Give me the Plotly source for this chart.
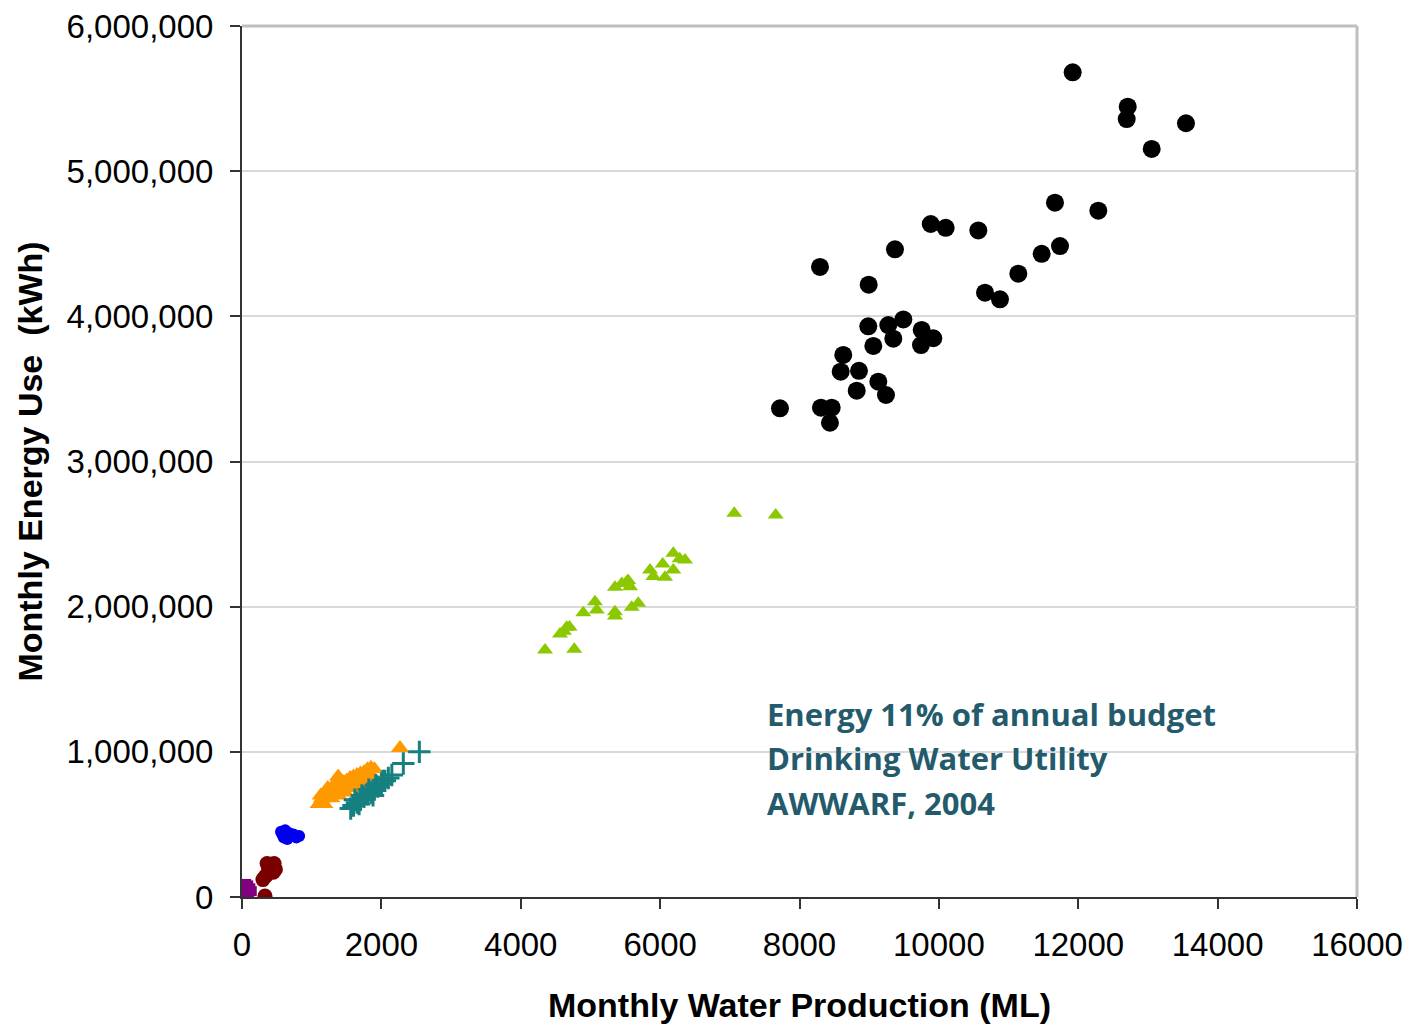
import plotly.graph_objects as go

# ---- Data ----
black_x = [11920, 12710, 12695, 13546, 13054, 11666, 12288, 9883, 10098, 10566,
           9370, 8294, 11738, 11475, 11140, 10662, 10877, 8993, 9490, 8987,
           9274, 9753, 9920, 9346, 9743, 9059, 8628, 8854, 8591, 9131,
           9241, 8821, 7720, 8308, 8462, 8437]
black_y = [5681000, 5444000, 5359000, 5330000, 5153000, 4783000, 4728000, 4636000, 4610000, 4592000,
           4462000, 4340000, 4484000, 4431000, 4294000, 4163000, 4117000, 4218000, 3979000, 3931000,
           3940000, 3906000, 3849000, 3846000, 3802000, 3796000, 3734000, 3625000, 3619000, 3550000,
           3458000, 3488000, 3366000, 3371000, 3371000, 3267000]

green_x = [7064, 7658, 6189, 6357, 6037, 5855, 6189, 5902, 6070, 5520,
           5352, 5568, 5065, 5687, 5592, 5352, 4897, 5090, 5352, 4659,
           4563, 4348, 4768, 4620, 4700, 5540, 5450, 6280]
green_y = [2643000, 2631000, 2368000, 2321000, 2294000, 2253000, 2253000, 2207000, 2202000, 2172000,
           2133000, 2138000, 2034000, 2023000, 1996000, 1965000, 1958000, 1977000, 1936000, 1858000,
           1812000, 1701000, 1706000, 1830000, 1860000, 2180000, 2160000, 2330000]

orange_x = [1100, 1150, 1200, 1250, 1300, 1350, 1380, 1420, 1460, 1500,
            1550, 1600, 1650, 1700, 1750, 1800, 1850, 1900, 1180, 1280,
            1380, 1480, 1580, 1680, 1780, 1880, 1320, 1440, 1130, 1230,
            1530, 1630, 1730, 2267]
orange_y = [640000, 680000, 700000, 730000, 760000, 790000, 830000, 800000, 790000, 800000,
            820000, 830000, 840000, 850000, 860000, 880000, 890000, 880000, 640000, 680000,
            700000, 720000, 750000, 770000, 790000, 820000, 740000, 760000, 700000, 750000,
            770000, 800000, 820000, 1026000]

teal_x = [1560, 1600, 1650, 1700, 1750, 1800, 1850, 1900, 1950, 2000,
          2050, 2100, 2150, 1620, 1720, 1820, 1920, 2020, 1680, 1880,
          2315, 2545]
teal_y = [610000, 630000, 650000, 670000, 690000, 710000, 720000, 740000, 760000, 780000,
          800000, 820000, 840000, 670000, 700000, 740000, 770000, 800000, 640000, 700000,
          920000, 1000000]

blue_x = [560, 620, 680, 600, 700, 780, 820, 650, 740, 580]
blue_y = [450000, 460000, 440000, 410000, 420000, 410000, 420000, 400000, 430000, 430000]

darkred_x = [420, 480, 350, 300, 450, 380, 330, 400, 460, 360, 330]
darkred_y = [220000, 190000, 150000, 120000, 170000, 200000, 140000, 180000, 230000, 230000, 7000]

purple_x = [50, 80, 120, 60, 100, 30, 90, 140]
purple_y = [50000, 30000, 60000, 90000, 20000, 10000, 80000, 40000]

cyan_x = [5, 15]
cyan_y = [30000, 50000]

x_ticks = [0, 2000, 4000, 6000, 8000, 10000, 12000, 14000, 16000]
y_ticks = [0, 1000000, 2000000, 3000000, 4000000, 5000000, 6000000]
y_tick_text = ["0", "1,000,000", "2,000,000", "3,000,000", "4,000,000", "5,000,000", "6,000,000"]

note_lines = ["Energy 11% of annual budget", "Drinking Water Utility", "AWWARF, 2004"]
note_y = [0.210, 0.1596, 0.1079]

fig = go.Figure()

def add(x, y, color, symbol, size, line=None):
    marker = dict(color=color, symbol=symbol, size=size)
    if line:
        marker["line"] = line
    fig.add_trace(go.Scatter(x=x, y=y, mode="markers", marker=marker,
                             showlegend=False, hoverinfo="x+y"))

add(cyan_x, cyan_y, "#33CCDD", "square", 8)
add(purple_x, purple_y, "#800080", "square", 10)
add(darkred_x, darkred_y, "#7A0000", "circle", 15)
add(blue_x, blue_y, "#0000EE", "circle", 12)
add(orange_x, orange_y, "#FF9900", "triangle-up", 16)
add(teal_x, teal_y, "#168080", "cross-thin", 16, line=dict(color="#168080", width=3))
add(green_x, green_y, "#8CC800", "triangle-up", 14)
add(black_x, black_y, "#000000", "circle", 18)

for txt, yy in zip(note_lines, note_y):
    fig.add_annotation(
        x=0.469, y=yy, xref="paper", yref="paper", xanchor="left", yanchor="middle",
        text=txt, showarrow=False, align="left",
        font=dict(family="Open Sans", size=31, color="#245B6C", weight="bold"),
    )

axis_font = dict(family="Liberation Sans, Arial", size=33, color="#000")
title_font = dict(family="Liberation Sans, Arial", size=34, color="#000", weight="bold")

fig.update_layout(
    width=1410, height=1026,
    margin=dict(l=242, r=53, t=26, b=129, autoexpand=False),
    paper_bgcolor="white", plot_bgcolor="white",
    xaxis=dict(
        range=[0, 16000], tickvals=x_ticks, ticktext=[str(v) for v in x_ticks],
        showgrid=False, zeroline=False, ticks="outside", ticklen=10, tickwidth=2,
        tickcolor="#333", showline=True, linecolor="#333", linewidth=2,
        tickfont=axis_font, automargin=False, ticklabelstandoff=7,
        title=dict(text="<b>Monthly Water Production (ML)</b>", font=title_font, standoff=32),
    ),
    yaxis=dict(
        range=[0, 6000000], tickvals=y_ticks, ticktext=y_tick_text,
        showgrid=True, gridcolor="#D9D9D9", gridwidth=2, zeroline=False,
        ticks="outside", ticklen=10, tickwidth=2, tickcolor="#333",
        showline=True, linecolor="#333", linewidth=2,
        tickfont=axis_font, automargin=False, ticklabelstandoff=10,
        title=dict(text="<b>Monthly Energy Use  (kWh)</b>", font=title_font, standoff=14),
    ),
    shapes=[
        dict(type="line", xref="paper", yref="paper", x0=0, x1=1, y0=1, y1=1,
             line=dict(color="#BFBFBF", width=3), layer="below"),
        dict(type="line", xref="paper", yref="paper", x0=1, x1=1, y0=0, y1=1,
             line=dict(color="#BFBFBF", width=3), layer="below"),
    ],
)

fig.write_html("out.html")
